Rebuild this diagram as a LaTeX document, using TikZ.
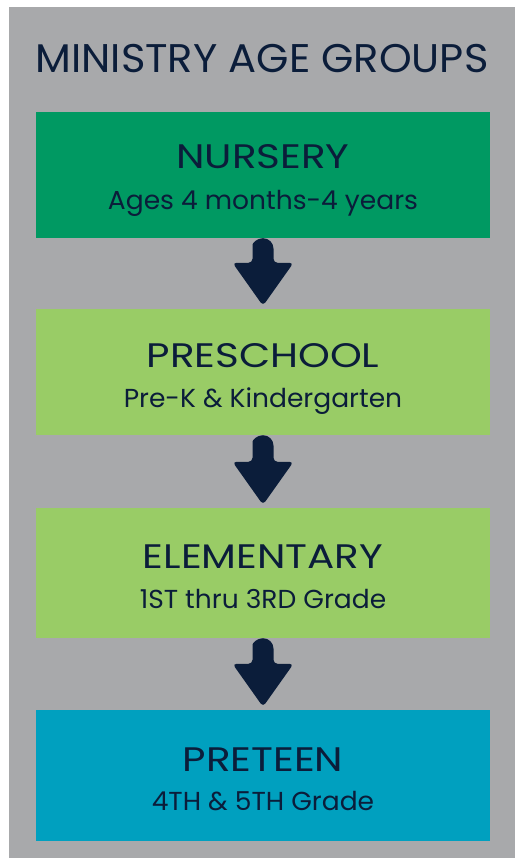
\documentclass[tikz,border=0pt]{standalone}
\usepackage{fontspec}
\setmainfont{Poppins}
\newfontfamily\titlefont[FakeStretch=1.04]{Poppins}
\newfontfamily\boxfont[FakeStretch=1.19]{Poppins}
\newfontfamily\subfont[FakeStretch=1.02]{Poppins}
\usetikzlibrary{calc}
\definecolor{bggray}{HTML}{A8A9AB}
\definecolor{navy}{HTML}{0B1D3A}
\definecolor{darkgreen}{HTML}{009962}
\definecolor{lightgreen}{HTML}{99CC66}
\definecolor{teal}{HTML}{00A0BF}
\tikzset{
  agebox/.style={fill=#1, draw=none, minimum width=454pt, inner sep=0pt},
  boxtitle/.style={anchor=base, text=navy, font=\boxfont\fontsize{34}{40}\selectfont, inner sep=0pt},
  boxsub/.style={anchor=base, text=navy, font=\subfont\fontsize{26}{30}\selectfont, inner sep=0pt},
  arrowc/.style={fill=navy}
}
\newcommand\flowarrow[2]{%
  \fill[arrowc] ($(#1.south)+(-10.5,-10.5)$) arc[start angle=180,end angle=0,radius=10.5]
    [rounded corners=4] -- ($(#2.north)+(10.5,46)$) -- ($(#2.north)+(30.5,46)$)
    -- ($(#2.north)+(0,3)$) -- ($(#2.north)+(-30.5,46)$) -- ($(#2.north)+(-10.5,46)$) -- cycle;}
\begin{document}
\begin{tikzpicture}[x=1pt,y=1pt]
\useasboundingbox (0,0) rectangle (521,-858);
\fill[bggray] (9,-7) rectangle (515,-858);
\node[anchor=base, text=navy, font=\titlefont\fontsize{40}{46}\selectfont, inner sep=0pt] (title) at (262,-73) {MINISTRY AGE GROUPS};
\node[agebox=darkgreen, minimum height=126pt] (nursery) at (263,-175) {};
\node[agebox=lightgreen, minimum height=126pt] (preschool) at (263,-372) {};
\node[agebox=lightgreen, minimum height=130pt] (elementary) at (263,-573) {};
\node[agebox=teal, minimum height=131pt] (preteen) at (263,-775.5) {};
\node[boxtitle] (t1) at ($(nursery.center)+(0,6)$) {NURSERY};
\node[boxsub] (s1) at ($(nursery.center)+(0,-35)$) {Ages 4 months-4 years};
\node[boxtitle] (t2) at ($(preschool.center)+(0,5)$) {PRESCHOOL};
\node[boxsub] (s2) at ($(preschool.center)+(0,-35)$) {Pre-K \& Kindergarten};
\node[boxtitle] (t3) at ($(elementary.center)+(0,5)$) {ELEMENTARY};
\node[boxsub] (s3) at ($(elementary.center)+(0,-35)$) {1ST thru 3RD Grade};
\node[boxtitle] (t4) at ($(preteen.center)+(0,4.5)$) {PRETEEN};
\node[boxsub] (s4) at ($(preteen.center)+(0,-35)$) {4TH \& 5TH Grade};
\flowarrow{nursery}{preschool}
\flowarrow{preschool}{elementary}
\flowarrow{elementary}{preteen}
\end{tikzpicture}
\end{document}
